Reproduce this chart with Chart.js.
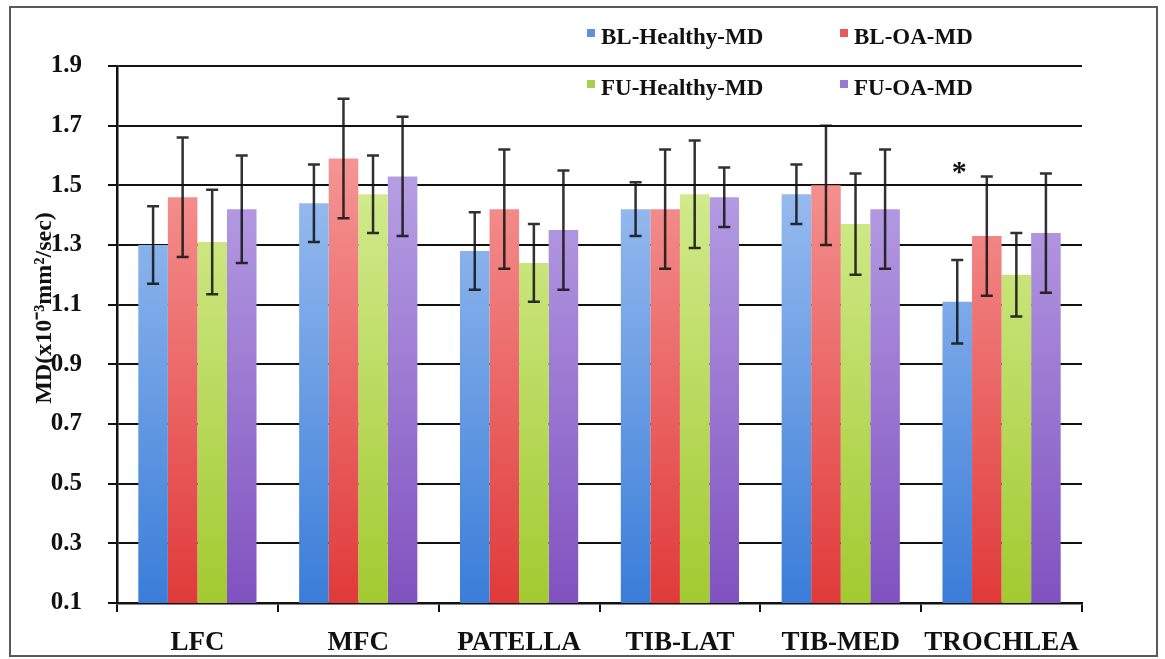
<!DOCTYPE html>
<html>
<head>
<meta charset="utf-8">
<script src="https://cdn.jsdelivr.net/npm/chart.js@4.4.1/dist/chart.umd.min.js"></script>
<style>
  body { margin: 0; background: #fff; }
  #wrap { position: relative; width: 1165px; height: 659px; }
  #legend { position: absolute; left: 0; top: 0; font-family: "Liberation Serif", "Times New Roman", serif; font-weight: bold; font-size: 23px; color: #111; }
  #legend .item { position: absolute; white-space: nowrap; line-height: 24px; }
  #legend .box { display: inline-block; width: 8px; height: 8px; margin-right: 6px; vertical-align: 7px; }
</style>
</head>
<body>
<div id="wrap">
  <canvas id="chart" width="1165" height="659"></canvas>
  <div id="legend"></div>
</div>
<script>
var categories = ["LFC", "MFC", "PATELLA", "TIB-LAT", "TIB-MED", "TROCHLEA"];
var series_names = ["BL-Healthy-MD", "BL-OA-MD", "FU-Healthy-MD", "FU-OA-MD"];

// mean values
var bl_healthy = [1.30, 1.44, 1.28, 1.42, 1.47, 1.11];
var bl_oa = [1.46, 1.59, 1.42, 1.42, 1.50, 1.33];
var fu_healthy = [1.31, 1.47, 1.24, 1.47, 1.37, 1.20];
var fu_oa = [1.42, 1.53, 1.35, 1.46, 1.42, 1.34];

// standard deviations (error bars)
var bl_healthy_sd = [0.13, 0.13, 0.13, 0.09, 0.10, 0.14];
var bl_oa_sd = [0.20, 0.20, 0.20, 0.20, 0.20, 0.20];
var fu_healthy_sd = [0.175, 0.13, 0.13, 0.18, 0.17, 0.14];
var fu_oa_sd = [0.18, 0.20, 0.20, 0.10, 0.20, 0.20];

var y_ticks = [0.1, 0.3, 0.5, 0.7, 0.9, 1.1, 1.3, 1.5, 1.7, 1.9];
var y_title = "MD(x10\u207B\u00B3mm\u00B2/sec)";

// significance marker: category, series index, value
var star_mark = { category: "TROCHLEA", series: 0, value: 1.565 };

var colors = [
  { top: "#b2cdf5", bottom: "#3a7dd8", legend: "#5a92e0" },
  { top: "#f9a8a6", bottom: "#e03a3a", legend: "#e85a5a" },
  { top: "#e0f4a8", bottom: "#a2ca30", legend: "#a8d050" },
  { top: "#c4b2ec", bottom: "#8052c0", legend: "#9a7ad0" }
];

var values = [bl_healthy, bl_oa, fu_healthy, fu_oa];
var errors = [bl_healthy_sd, bl_oa_sd, fu_healthy_sd, fu_oa_sd];

var make_gradient = function(ctx, area, c) {
  var g = ctx.createLinearGradient(0, area.top, 0, area.bottom);
  g.addColorStop(0, c.top);
  g.addColorStop(1, c.bottom);
  return g;
};

var datasets = [];
for (var i = 0; i < series_names.length; i++) {
  (function(idx) {
    datasets.push({
      label: series_names[idx],
      data: values[idx],
      errors: errors[idx],
      backgroundColor: function(context) {
        var area = context.chart.chartArea;
        if (!area) return colors[idx].bottom;
        return make_gradient(context.chart.ctx, area, colors[idx]);
      },
      borderWidth: 0,
      categoryPercentage: 0.735,
      barPercentage: 1.0
    });
  })(i);
}

var serif = "'Liberation Serif', 'Times New Roman', serif";

// outer frame + rotated y title (sits a bit above the axis middle)
var frame_plugin = {
  id: 'frame',
  afterDraw: function(chart) {
    var ctx = chart.ctx;
    ctx.save();
    ctx.strokeStyle = "#5a5a5a";
    ctx.lineWidth = 2;
    ctx.strokeRect(10, 7, 1147, 649);

    ctx.translate(45, 308);
    ctx.rotate(-Math.PI / 2);
    ctx.fillStyle = "#111";
    ctx.font = "bold 24px " + serif;
    ctx.textAlign = "center";
    ctx.textBaseline = "middle";
    ctx.fillText(y_title, 0, 0);
    ctx.restore();
  }
};

// error bars + asterisk
var error_plugin = {
  id: 'errorbars',
  afterDatasetsDraw: function(chart) {
    var ctx = chart.ctx;
    var y = chart.scales.y;
    ctx.save();
    ctx.strokeStyle = "rgba(20,20,20,0.88)";
    ctx.lineWidth = 2.5;
    chart.data.datasets.forEach(function(ds, di) {
      var meta = chart.getDatasetMeta(di);
      meta.data.forEach(function(bar, k) {
        var v = ds.data[k];
        var e = ds.errors[k];
        var x = bar.x;
        var yt = y.getPixelForValue(v + e);
        var yb = y.getPixelForValue(v - e);
        ctx.beginPath();
        ctx.moveTo(x, yt);
        ctx.lineTo(x, yb);
        ctx.moveTo(x - 6, yt);
        ctx.lineTo(x + 6, yt);
        ctx.moveTo(x - 6, yb);
        ctx.lineTo(x + 6, yb);
        ctx.stroke();
      });
    });
    var k = categories.indexOf(star_mark.category);
    var sb = chart.getDatasetMeta(star_mark.series).data[k];
    ctx.fillStyle = "#111";
    ctx.font = "bold 30px " + serif;
    ctx.textAlign = "center";
    ctx.textBaseline = "middle";
    ctx.fillText("*", sb.x + 2, y.getPixelForValue(star_mark.value) + 7);
    ctx.restore();
  }
};

var chart = new Chart(document.getElementById("chart").getContext("2d"), {
  type: 'bar',
  data: {
    labels: categories,
    datasets: datasets
  },
  options: {
    responsive: false,
    animation: false,
    events: [],
    layout: {
      padding: { top: 66, right: 83, bottom: 0, left: 12 }
    },
    plugins: {
      legend: { display: false },
      tooltip: { enabled: false }
    },
    scales: {
      x: {
        offset: true,
        grid: {
          offset: true,
          drawOnChartArea: false,
          drawTicks: true,
          tickLength: 9,
          color: "#111",
          lineWidth: 2
        },
        border: { color: "#111", width: 2.5 },
        ticks: {
          color: "#111",
          padding: 15,
          font: { family: serif, weight: 'bold', size: 27 }
        },
        afterFit: function(scale) { scale.height = 56; }
      },
      y: {
        min: 0.1,
        max: 1.9,
        afterBuildTicks: function(scale) {
          scale.ticks = y_ticks.map(function(v) { return { value: v }; });
        },
        grid: {
          color: "#111",
          lineWidth: 2,
          tickLength: 9
        },
        border: { color: "#111", width: 2.5 },
        ticks: {
          color: "#111",
          padding: 26,
          font: { family: serif, weight: 'bold', size: 25 },
          callback: function(v) { return Number(v).toFixed(1); }
        },
        afterFit: function(scale) { scale.width = 105; }
      }
    }
  },
  plugins: [frame_plugin, error_plugin]
});

// legend, two columns by two rows
var legend_pos = [
  { left: 587, top: 25 },
  { left: 840, top: 25 },
  { left: 587, top: 76 },
  { left: 840, top: 76 }
];
var legend = document.getElementById("legend");
for (var j = 0; j < series_names.length; j++) {
  var item = document.createElement("div");
  item.className = "item";
  item.style.left = legend_pos[j].left + "px";
  item.style.top = legend_pos[j].top + "px";
  item.innerHTML = '<span class="box" style="background:' + colors[j].legend + '"></span>' + series_names[j];
  legend.appendChild(item);
}
</script>
</body>
</html>
